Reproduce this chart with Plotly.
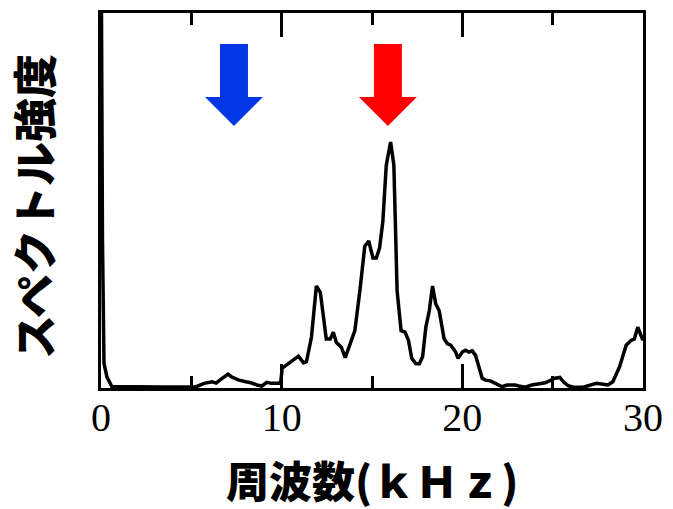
import plotly.graph_objects as go

# Spectrum: frequency (kHz) and intensity (arbitrary units)
freq_khz = [
    0.0, 0.08, 0.165, 0.33, 0.6, 1.6, 3.24, 5.27, 5.71, 6.15, 6.37, 6.65, 7.03,
    7.25, 7.64, 8.02, 8.30, 8.63, 8.90, 9.18, 9.45, 9.84, 9.95, 10.03, 10.38,
    10.55, 10.93, 11.21, 11.37, 11.65, 11.92, 12.14, 12.31, 12.47, 12.69, 12.86,
    13.02, 13.30, 13.52, 13.68, 14.05, 14.33, 14.60, 14.82, 15.05, 15.24, 15.42,
    15.60, 15.79, 16.03, 16.21, 16.39, 16.61, 16.83, 17.02, 17.20, 17.43, 17.62,
    17.80, 17.98, 18.17, 18.35, 18.53, 18.72, 18.99, 19.18, 19.36, 19.63, 19.76,
    20.00, 20.18, 20.37, 20.55, 20.73, 20.92, 21.10, 21.28, 21.55, 21.83, 22.20,
    22.47, 22.93, 23.12, 23.48, 23.85, 24.21, 24.58, 24.82, 25.13, 25.40, 25.59,
    25.86, 26.14, 26.69, 27.05, 27.42, 27.79, 28.06, 28.33, 28.70, 29.07, 29.34,
    29.52, 29.71, 29.89, 30.0,
]
intensity = [
    130.0, 40.0, 6.6, 2.9, 0.4, 0.26, 0.26, 0.34, 1.24, 1.67, 1.32, 2.38, 3.7,
    2.9, 2.1, 1.67, 1.4, 0.8, 0.53, 1.5, 1.24, 1.24, 1.67, 5.3, 6.5,
    7.0, 8.5, 6.7, 7.0, 13.6, 27.2, 25.5, 18.9, 13.1, 13.1, 14.9,
    12.2, 10.9, 8.1, 10.5, 15.3, 26.0, 37.8, 39.2, 34.7, 34.7, 37.4,
    44.4, 59.4, 65.6, 59.4, 25.9, 15.3, 14.9, 12.7, 7.9, 6.5, 6.5,
    8.3, 16.2, 20.6, 27.2, 22.4, 20.6, 13.1, 11.8, 11.4, 9.6, 7.9,
    9.6, 10.1, 9.6, 9.9, 8.7, 5.6, 2.6, 2.1, 1.9, 1.24, 0.34,
    0.8, 0.8, 0.53, 0.2, 0.8, 1.0, 1.4, 1.9, 2.6, 2.8, 1.67,
    0.6, 0.2, 0.2, 0.6, 1.24, 1.0, 0.8, 1.67, 5.6, 11.4, 12.7,
    13.1, 16.2, 14.0, 12.7,
]

# Frequencies pointed at by the marker arrows
arrow_freqs = [7.36, 15.88]
arrow_colors = ["#0336E5", "#FF0000"]

x_ticks = [0, 10, 20, 30]
x_tick_labels = ["0", "10", "20", "30"]

fig = go.Figure()
fig.add_trace(go.Scatter(
    x=freq_khz, y=intensity, mode="lines",
    line=dict(color="black", width=3.5),
    hoverinfo="skip", showlegend=False,
))

# Down arrows drawn in pixel units, anchored at the top of the plot area
def arrow_path():
    hs, hh = 14, 29          # half shaft width, half head width
    top, base, tip = -31, -84, -113
    pts = [(-hs, top), (hs, top), (hs, base), (hh, base), (0, tip),
           (-hh, base), (-hs, base)]
    return "M " + " L ".join(f"{x},{y}" for x, y in pts) + " Z"

for f, c in zip(arrow_freqs, arrow_colors):
    fig.add_shape(
        type="path", path=arrow_path(),
        xref="x", xsizemode="pixel", xanchor=f,
        yref="paper", ysizemode="pixel", yanchor=1,
        fillcolor=c, line=dict(width=0), layer="above",
    )

axis_common = dict(
    showgrid=False, zeroline=False,
    showline=True, linecolor="black", linewidth=3, mirror="ticks",
)

fig.update_xaxes(
    range=[0, 30], tickvals=x_ticks, ticktext=x_tick_labels,
    ticks="inside", ticklen=24, tickwidth=3, tickcolor="black",
    minor=dict(dtick=5, tick0=0, ticks="inside", ticklen=12,
               tickwidth=3, tickcolor="black"),
    tickfont=dict(family="Liberation Serif", size=40, color="black"),
    ticklabelstandoff=-8,
    **axis_common,
)
fig.update_yaxes(
    range=[0, 100], showticklabels=False, ticks="",
    **axis_common,
)

fig.add_annotation(
    text="周波数(ｋＨｚ)", xref="paper", yref="paper",
    x=0.5, y=-0.243, xanchor="center", yanchor="middle",
    showarrow=False,
    font=dict(family="Noto Sans CJK JP", size=43, color="black", weight=900),
)
fig.add_annotation(
    text="スペクトル強度", xref="paper", yref="paper",
    x=-0.1264, y=0.484, xanchor="center", yanchor="middle", textangle=-90,
    showarrow=False,
    font=dict(family="Noto Sans CJK JP", size=44, color="black", weight=900),
)

fig.update_layout(
    width=673, height=509,
    margin=dict(l=101, r=26, t=10, b=121),
    paper_bgcolor="white", plot_bgcolor="white",
    showlegend=False,
)

fig.write_html("out.html")
